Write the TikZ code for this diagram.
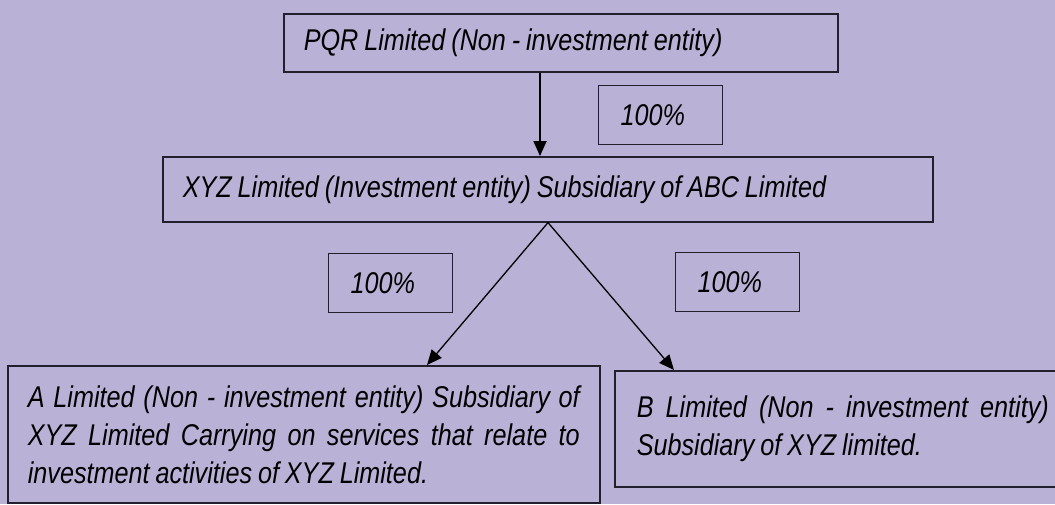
\documentclass[tikz,border=0pt]{standalone}
\usepackage{fontspec}
\setmainfont{Liberation Sans}[FakeStretch=0.84, WordSpace=0.84]
\usetikzlibrary{arrows.meta}
\definecolor{lavender}{RGB}{185,177,214}
\definecolor{edge}{RGB}{35,32,45}
\begin{document}
\begin{tikzpicture}[x=1pt, y=-1pt, >={Triangle[length=15pt,width=13pt]},
    entity/.style={draw=edge, line width=1.6pt, anchor=north west, inner xsep=20pt, inner ysep=0pt, font=\itshape\fontsize{30}{38}\selectfont},
    share/.style={draw=edge, line width=1.3pt, anchor=north west, minimum width=124pt, minimum height=59pt, text width=80pt, inner xsep=22pt, align=flush left, font=\itshape\fontsize{30}{34}\selectfont}]
    \fill[lavender] (0,0) rectangle (1055,504);
    \useasboundingbox (0,0) rectangle (1055,504);
    \node[entity, text width=514pt, minimum height=58pt, align=flush left] (pqr) at (283,13) {PQR Limited (Non - investment entity)};
    \node[entity, text width=730pt, minimum height=65pt, align=flush left] (xyz) at (162,156) {XYZ Limited (Investment entity) Subsidiary of ABC Limited};
    \node[entity, text width=552pt, minimum height=137pt, align=justify] (alim) at (7,365) {A Limited (Non - investment entity) Subsidiary of\linebreak XYZ Limited Carrying on services that relate to\linebreak investment activities of XYZ Limited.};
    \node[entity, inner xsep=22pt, text width=412pt, minimum height=116pt, align=justify] (blim) at (614,370) {B Limited (Non - investment entity)\linebreak Subsidiary of XYZ limited.\par\vspace*{16pt}};
    \node[share] (own) at (598,85) {100\%};
    \node[share] (owna) at (328,253) {100\%};
    \node[share] (ownb) at (675,252) {100\%};
    \coordinate (drop) at (540,0);
    \coordinate (split) at (548,0);
    \coordinate (tipa) at (427,0);
    \coordinate (tipb) at (674,0);
    \draw[->, line width=1.8pt] (pqr.south -| drop) -- (xyz.north -| drop);
    \draw[->, line width=1.3pt] (xyz.south -| split) -- (alim.north -| tipa);
    \draw[->, line width=1.3pt] (xyz.south -| split) -- (blim.north -| tipb);
\end{tikzpicture}
\end{document}
